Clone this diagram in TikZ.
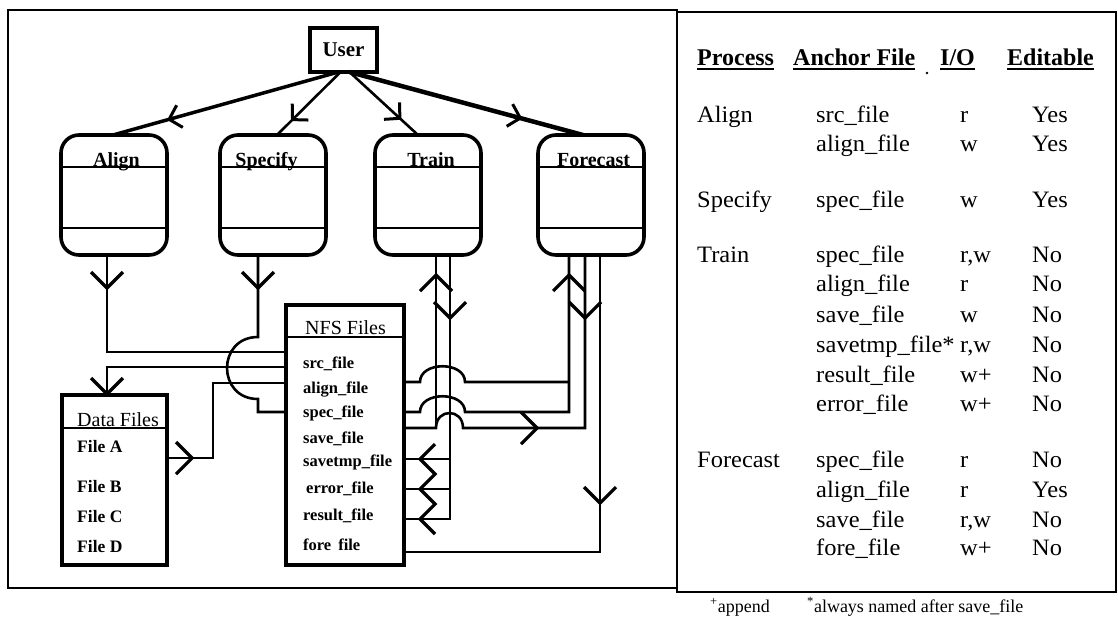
\documentclass[tikz,border=0pt]{standalone}
\usepackage{fontspec}
\setmainfont{Liberation Serif}
\newfontfamily\tabfont[FakeStretch=1.04]{Liberation Serif}
\usetikzlibrary{arrows.meta,decorations.markings,calc}
\begin{document}
\begin{tikzpicture}[x=1pt,y=-1pt,
 panel/.style={draw,line width=2pt},
 proc/.style={draw,line width=3.6pt,rounded corners=18pt,minimum width=106pt,minimum height=120pt,inner sep=0pt,outer sep=0pt},
 filebox/.style={draw,line width=3.4pt,inner sep=0pt,outer sep=0pt},
 userbox/.style={draw,line width=3.8pt,minimum width=67pt,minimum height=44pt,inner sep=0pt,outer sep=0pt,font=\fontsize{21}{24}\selectfont\bfseries},
 hline/.style={line width=1.5pt},
 plabel/.style={anchor=base,inner sep=0pt,font=\fontsize{20}{24}\selectfont\bfseries},
 ftitle/.style={anchor=base west,inner sep=0pt,font=\fontsize{20}{24}\selectfont},
 fitem/.style={anchor=base west,inner sep=0pt,font=\fontsize{17.5}{20}\selectfont\bfseries},
 nitem/.style={anchor=base west,inner sep=0pt,font=\fontsize{16.5}{20}\selectfont\bfseries},
 link/.style={line width=2.6pt,line join=miter},
 chevline/.style={line width=3.2pt,line join=miter},
 chevD/.pic={\draw[chevline] (-16,-16) -- (0,0) -- (16,-16);},
 chevU/.pic={\draw[chevline] (-16,16) -- (0,0) -- (16,16);},
 chevR/.pic={\draw[chevline] (-16,-16) -- (0,0) -- (-16,16);},
 midchev/.style={postaction={decorate,decoration={markings,mark=at position #1 with {\arrow{Straight Barb[length=11pt,width=23pt,line width=3pt]}}}}},
 thead/.style={anchor=base west,inner sep=0pt,font=\fontsize{24}{28}\selectfont\bfseries},
 tcell/.style={anchor=base west,inner sep=0pt,font=\tabfont\fontsize{23.5}{28}\selectfont},
 ul/.style={line width=2pt},
 fnote/.style={anchor=base west,inner sep=0pt,font=\fontsize{18}{20}\selectfont}
]
\useasboundingbox (0,0) rectangle (1118,619);
\fill[white] (0,0) rectangle (1118,619);

% panels
\draw[panel] (8,10) rectangle (677,588);
\draw[panel] (677,12) rectangle (1116,592);

% boxes
\node[userbox] (User) at (343.5,50) {User};
\node[proc] (Align) at (114,195) {};
\node[proc] (Specify) at (273,195) {};
\node[proc] (Train) at (428,195) {};
\node[proc] (Forecast) at (591,195) {};
\foreach \b in {Align,Specify,Train,Forecast}{
  \draw[hline] ([yshift=-32pt]\b.north west) -- ([yshift=-32pt]\b.north east);
  \draw[hline] ([yshift=-93pt]\b.north west) -- ([yshift=-93pt]\b.north east);
}
\node[plabel] (AlignL) at (116.5,166) {Align};
\node[plabel] (SpecifyL) at (266.5,166) {Specify};
\node[plabel] (TrainL) at (431,166) {Train};
\node[plabel] (ForecastL) at (593.5,166) {Forecast};

\node[filebox,minimum width=105pt,minimum height=170pt] (Data) at (114.5,480) {};
\draw[hline] ([yshift=-33pt]Data.north west) -- ([yshift=-33pt]Data.north east);
\node[ftitle] (DataT) at (77,426) {Data Files};
\node[fitem] (FA) at (77,452) {File A};
\node[fitem] (FB) at (77,492) {File B};
\node[fitem] (FC) at (77,522) {File C};
\node[fitem] (FD) at (77,552) {File D};

\node[filebox,minimum width=118pt,minimum height=260pt] (NFS) at (345,435) {};
\draw[hline] ([yshift=-32pt]NFS.north west) -- ([yshift=-32pt]NFS.north east);
\node[ftitle] (NFST) at (305,334) {NFS Files};
\node[nitem] (n1) at (303,368) {src\_file};
\node[nitem] (n2) at (303,393) {align\_file};
\node[nitem] (n3) at (303,417) {spec\_file};
\node[nitem] (n4) at (303,443) {save\_file};
\node[nitem] (n5) at (303,466) {savetmp\_file};
\node[nitem] (n6) at (306,493) {error\_file};
\node[nitem] (n7) at (303,520) {result\_file};
\node[nitem] (n8) at (303,550) {fore\hspace{7pt}file};

% user connectors
\draw[link,line width=3.5pt,midchev=0.76] ([xshift=-5pt]User.south) -- ([xshift=-1pt]Align.north);
\draw[link,midchev=0.78] ([xshift=-3pt]User.south) -- ([xshift=4pt]Specify.north);
\draw[link,midchev=0.76] ([xshift=6pt]User.south) -- ([xshift=-10pt]Train.north);
\draw[link,line width=4.5pt,midchev=0.74] ([xshift=6pt]User.south) -- ([xshift=-8pt]Forecast.north);

% coordinates
\coordinate (aO) at ([xshift=-7pt]Align.south);
\coordinate (sO) at ([xshift=-15pt]Specify.south);
\coordinate (tR) at ([xshift=8pt]Train.south);
\coordinate (tW) at ([xshift=22pt]Train.south);
\coordinate (f1) at ([xshift=-22pt]Forecast.south);
\coordinate (f2) at ([xshift=-6pt]Forecast.south);
\coordinate (f3) at ([xshift=9pt]Forecast.south);
\coordinate (dI) at ([xshift=-7.5pt]Data.north);
\coordinate (rA) at (0,352);
\coordinate (rD) at (0,367);
\coordinate (rE) at (0,383);
\coordinate (rF) at (0,458);
\coordinate (rS) at (0,412);
\coordinate (q1) at (0,382);
\coordinate (q2) at (0,412);
\coordinate (q3) at (0,428);
\coordinate (q4) at (0,459);
\coordinate (q5) at (0,489);
\coordinate (q6) at (0,519);
\coordinate (q7) at (0,552);

% left side connectors
\draw[link] (aO) |- (NFS.west |- rA);
\draw[link] (sO) -- (258,337) .. controls (216.7,337) and (216.7,399) .. (258,399) |- (NFS.west |- rS);
\draw[link] (NFS.west |- rD) -| (dI);
\draw[link] (Data.east |- rF) -- (213,458) |- (NFS.west |- rE);

% right side connectors
\draw[link] (tR) |- (NFS.east |- q3);
\draw[link] (NFS.east |- q3) -- (436,428) .. controls (436,408) and (463,408) .. (463,428) -| (f2);
\draw[link] (tW) |- (NFS.east |- q6);
\draw[link] (tW |- q4) -- (NFS.east |- q4);
\draw[link] (tW |- q5) -- (NFS.east |- q5);
\draw[link] (NFS.east |- q1) -- (420,382) .. controls (420,361) and (465,361) .. (465,382) -- (f1 |- q1);
\draw[link] (f1) |- (465,412) .. controls (465,391) and (420,391) .. (420,412) -- (NFS.east |- q2);
\draw[link] (f3) |- (NFS.east |- q7);

% chevrons
\pic at (107,288) {chevD};
\pic at (258,288) {chevD};
\pic at (107,394) {chevD};
\pic at (192,458) {chevR};
\pic at (436,275) {chevU};
\pic at (569,275) {chevU};
\pic at (450,318) {chevD};
\pic at (585,318) {chevD};
\pic at (600,503) {chevD};
\pic at (537,428) {chevR};
\draw[chevline] (435,444) -- (420,459) -- (435,474) -- (420,489) -- (435,504) -- (420,519) -- (435,534);

% table
\node[thead] (hP) at (697,65) {Process};
\node[thead] (hA) at (793,65) {Anchor File};
\node[thead] (hI) at (940,65) {I/O};
\node[thead] (hE) at (1007,65) {Editable};
\foreach \n in {hP,hA,hI,hE}
  \draw[ul] ([yshift=-4pt]\n.base west) -- ([yshift=-4pt]\n.base east);
\fill (927,73) circle (1.4pt);

\node[tcell] (pA) at (697,122) {Align};
\node[tcell] (pS) at (697,207) {Specify};
\node[tcell] (pT) at (697,262) {Train};
\node[tcell] (pF) at (697,467) {Forecast};

\foreach \y/\f/\io/\e [count=\i] in {
  122/src\_file/r/Yes,
  151/align\_file/w/Yes,
  207/spec\_file/w/Yes,
  262/spec\_file/{r,w}/No,
  291/align\_file/r/No,
  322/save\_file/w/No,
  352/savetmp\_file*/{r,w}/No,
  382/result\_file/w+/No,
  411/error\_file/w+/No,
  467/spec\_file/r/No,
  497/align\_file/r/Yes,
  527/save\_file/{r,w}/No,
  555/fore\_file/w+/No}{
  \node[tcell] (af\i) at (816,\y) {\f};
  \node[tcell] (io\i) at (960,\y) {\io};
  \node[tcell] (ed\i) at (1032,\y) {\e};
}

\node[fnote] (fn1) at (710,612) {\textsuperscript{+}append};
\node[fnote] (fn2) at (807,612) {\textsuperscript{*}always named after save\_file};
\end{tikzpicture}
\end{document}
